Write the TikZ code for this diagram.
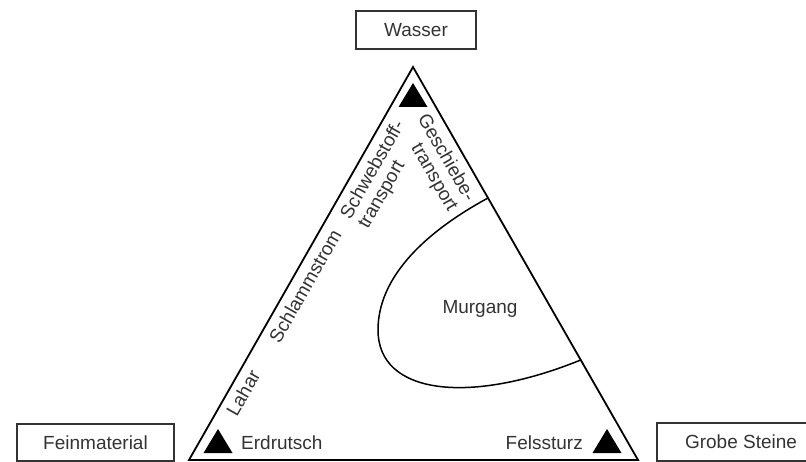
\documentclass[tikz,border=0pt]{standalone}
\usepackage{fontspec}
\setmainfont{Liberation Sans}
\usetikzlibrary{calc}
\definecolor{txt}{HTML}{333333}
\begin{document}
\begin{tikzpicture}[x=1pt,y=-1pt,
  lbl/.style={font=\fontsize{19}{20}\selectfont, text=txt, inner sep=0pt},
  edgeline/.style={line width=1.8pt, line join=miter, draw=black},
  boxline/.style={line width=1.3pt, draw=black!80},
  curveline/.style={line width=1.5pt, draw=black},
  marker/.style={fill=black}
]
\useasboundingbox (0,0) rectangle (806,462);
% main triangle
\coordinate (T) at (413,67);
\coordinate (L) at (189,460);
\coordinate (R) at (638,460);
\draw[edgeline] (L) -- (T) -- (R) -- cycle;
% Murgang region
\coordinate (m1) at ($(T)!0.3333!(R)$);
\coordinate (m2) at ($(T)!0.7455!(R)$);
\draw[curveline] (m1) .. controls (420,235) and (378,280) .. (378,330)
  .. controls (378,395) and (470,405) .. (m2);
% filled markers
\fill[marker] (413,83) -- (398.5,107) -- (427.5,107) -- cycle;
\fill[marker] (218,429) -- (203.5,453) -- (232.5,453) -- cycle;
\fill[marker] (607,429) -- (592.5,453) -- (621.5,453) -- cycle;
% boxes
\node[lbl, boxline, draw, minimum width=120pt, minimum height=38pt] (wasser) at (416,30) {Wasser};
\node[lbl, boxline, draw, minimum width=157pt, minimum height=37pt] (fein) at (95.5,442.5) {Feinmaterial};
\node[lbl] (grobe) at (741,442) {Grobe Steine};
\draw[boxline] (806,423) -- (657,423) -- (657,461) -- (806,461);
% corner labels
\node[lbl, anchor=west] (erd) at (241,443) {Erdrutsch};
\node[lbl, anchor=east] (fels) at (583,443) {Felssturz};
\node[lbl] (murgang) at (480,309) {Murgang};
% edge labels
\node[lbl, rotate=60.3] (lahar) at (243,393) {Lahar};
\node[lbl, rotate=60.3] (schlamm) at (305,286) {Schlammstrom};
\node[lbl, rotate=60.3, align=left] (schweb) at (382,175) {Schwebstoff-\\transport};
\node[lbl, rotate=-60.2, align=right] (gesch) at (437,163) {Geschiebe-\\transport};
\end{tikzpicture}
\end{document}
